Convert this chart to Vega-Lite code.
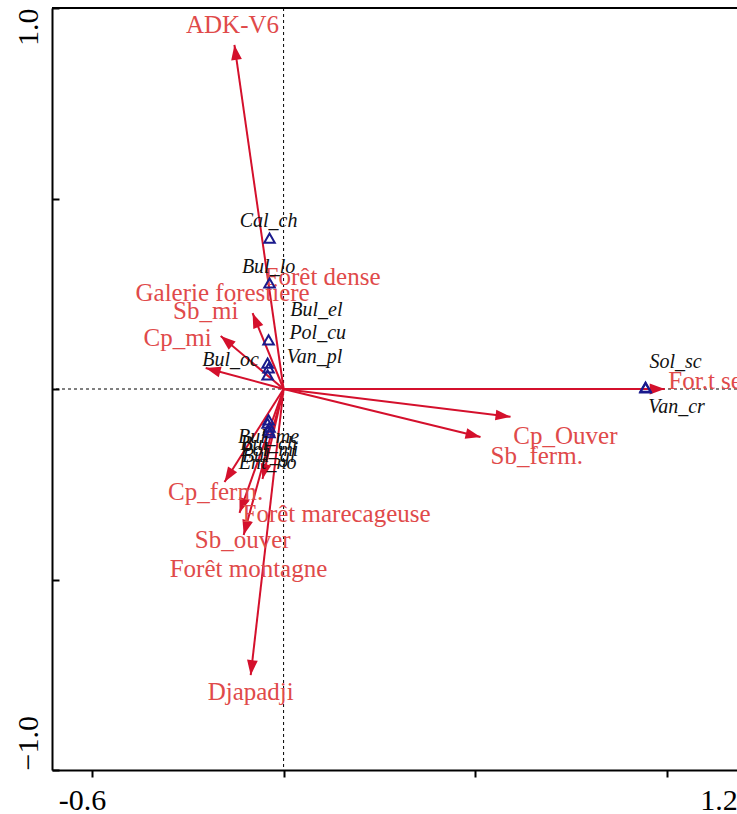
{
  "$schema": "https://vega.github.io/schema/vega-lite/v6.json",
  "width": 685,
  "height": 762,
  "autosize": {"type": "none"},
  "padding": {"left": 52, "top": 8, "right": 0, "bottom": 44},
  "background": "white",
  "config": {"view": {"stroke": null}},
  "datasets": {
    "env": [
      {"name": "ADK-V6", "ax": -0.154, "ay": 0.903, "lx": -0.160, "ly": 0.955},
      {"name": "Forêt dense", "ax": null, "ay": null, "lx": 0.122, "ly": 0.294},
      {"name": "Galerie forestiere", "ax": -0.244, "ay": 0.055, "lx": -0.191, "ly": 0.252},
      {"name": "Sb_mi", "ax": -0.097, "ay": 0.199, "lx": -0.244, "ly": 0.205},
      {"name": "Cp_mi", "ax": -0.197, "ay": 0.139, "lx": -0.332, "ly": 0.134},
      {"name": "For.t sec", "ax": 1.194, "ay": 0.0, "lx": 1.338, "ly": 0.021},
      {"name": "Cp_Ouver", "ax": 0.711, "ay": -0.073, "lx": 0.883, "ly": -0.123},
      {"name": "Sb_ferm.", "ax": 0.617, "ay": -0.126, "lx": 0.793, "ly": -0.176},
      {"name": "Cp_ferm.", "ax": -0.185, "ay": -0.244, "lx": -0.213, "ly": -0.270},
      {"name": "Forêt marecageuse", "ax": -0.138, "ay": -0.325, "lx": 0.166, "ly": -0.328},
      {"name": "Sb_ouver", "ax": -0.125, "ay": -0.383, "lx": -0.128, "ly": -0.396},
      {"name": "Forêt montagne", "ax": -0.066, "ay": -0.236, "lx": -0.110, "ly": -0.472},
      {"name": "Djapadji", "ax": -0.103, "ay": -0.751, "lx": -0.103, "ly": -0.795}
    ],
    "species": [
      {"name": "Cal_ch", "sx": -0.044, "sy": 0.396, "lx": -0.047, "ly": 0.441},
      {"name": "Bul_lo", "sx": -0.044, "sy": 0.278, "lx": -0.047, "ly": 0.320},
      {"name": "Bul_el", "sx": -0.047, "sy": 0.129, "lx": 0.103, "ly": 0.207},
      {"name": "Pol_cu", "sx": -0.050, "sy": 0.068, "lx": 0.107, "ly": 0.147},
      {"name": "Van_pl", "sx": -0.047, "sy": 0.055, "lx": 0.097, "ly": 0.084},
      {"name": "Bul_oc", "sx": -0.050, "sy": 0.037, "lx": -0.166, "ly": 0.076},
      {"name": "Sol_sc", "sx": 1.134, "sy": 0.005, "lx": 1.228, "ly": 0.071},
      {"name": "Van_cr", "sx": 1.134, "sy": 0.003, "lx": 1.231, "ly": -0.047},
      {"name": "Bul_me", "sx": -0.047, "sy": -0.081, "lx": -0.047, "ly": -0.126},
      {"name": "Bul_ch", "sx": -0.044, "sy": -0.100, "lx": -0.047, "ly": -0.144},
      {"name": "Pol_mi", "sx": -0.044, "sy": -0.115, "lx": -0.044, "ly": -0.160},
      {"name": "Bul_gl", "sx": -0.047, "sy": -0.108, "lx": -0.047, "ly": -0.176},
      {"name": "Ent_no", "sx": -0.050, "sy": -0.090, "lx": -0.050, "ly": -0.194}
    ]
  },
  "layer": [
    {
      "data": {"values": [{}]},
      "mark": {"type": "rule", "color": "black", "strokeWidth": 1, "strokeDash": [3, 3]},
      "encoding": {
        "x": {
          "datum": 0, "type": "quantitative",
          "scale": {"domain": [-0.7255, 1.4205], "nice": false, "zero": false},
          "axis": {
            "orient": "bottom", "title": null, "grid": false,
            "values": [-0.6, 0, 0.6, 1.2],
            "labelExpr": "datum.value == -0.6 ? '-0.6' : (datum.value == 1.2 ? '1.2' : '')",
            "labelOffset": {"condition": {"test": "datum.value > 1", "value": 52}, "value": -10},
            "labelFont": "Liberation Serif", "labelFontSize": 30, "labelColor": "black",
            "labelPadding": 8, "labelOverlap": false, "labelBound": false, "labelFlush": false,
            "domainColor": "black", "domainWidth": 2,
            "tickColor": "black", "tickWidth": 2, "tickSize": 7
          }
        }
      }
    },
    {
      "data": {"values": [{}]},
      "mark": {"type": "rule", "color": "black", "strokeWidth": 1, "strokeDash": [3, 3]},
      "encoding": {
        "y": {
          "datum": 0, "type": "quantitative",
          "scale": {"domain": [-1, 1], "nice": false, "zero": false},
          "axis": {
            "orient": "left", "title": null, "grid": false,
            "values": [-1, -0.5, 0, 0.5, 1],
            "labelExpr": "abs(datum.value) == 1 ? format(datum.value, '.1f') : ''",
            "labelAngle": 270,
            "labelAlign": {"condition": {"test": "datum.value > 0", "value": "right"}, "value": "left"},
            "labelBaseline": "bottom",
            "labelFont": "Liberation Serif", "labelFontSize": 30, "labelColor": "black",
            "labelPadding": 16, "labelOverlap": false, "labelBound": false, "labelFlush": false,
            "domainColor": "black", "domainWidth": 2,
            "tickColor": "black", "tickWidth": 2, "tickSize": -7
          }
        }
      }
    },
    {
      "data": {"values": [{}]},
      "mark": {"type": "rule", "color": "black", "strokeWidth": 2},
      "encoding": {"y": {"datum": 1, "type": "quantitative"}}
    },
    {
      "data": {"name": "env"},
      "transform": [{"filter": "isValid(datum.ax)"}],
      "mark": {"type": "rule", "color": "#d4102c", "strokeWidth": 2},
      "encoding": {
        "x": {"field": "ax", "type": "quantitative"},
        "y": {"field": "ay", "type": "quantitative"},
        "x2": {"datum": 0},
        "y2": {"datum": 0}
      }
    },
    {
      "data": {"name": "env"},
      "transform": [
        {"filter": "isValid(datum.ax)"},
        {"calculate": "atan2(datum.ax * 319.2, datum.ay * 381) * 180 / PI", "as": "ang"}
      ],
      "mark": {"type": "point", "shape": "M0,0L0.36,1L-0.36,1Z", "filled": true, "color": "#d4102c", "opacity": 1, "size": 900},
      "encoding": {
        "x": {"field": "ax", "type": "quantitative"},
        "y": {"field": "ay", "type": "quantitative"},
        "angle": {"field": "ang", "type": "quantitative", "scale": null}
      }
    },
    {
      "data": {"name": "env"},
      "mark": {"type": "text", "font": "Liberation Serif", "fontSize": 25, "color": "#e04a4a", "align": "center", "baseline": "middle"},
      "encoding": {
        "x": {"field": "lx", "type": "quantitative"},
        "y": {"field": "ly", "type": "quantitative"},
        "text": {"field": "name"}
      }
    },
    {
      "data": {"name": "species"},
      "mark": {"type": "point", "shape": "triangle-up", "filled": false, "color": "#1a1a8c", "strokeWidth": 2, "opacity": 1, "size": 110},
      "encoding": {
        "x": {"field": "sx", "type": "quantitative"},
        "y": {"field": "sy", "type": "quantitative"}
      }
    },
    {
      "data": {"name": "species"},
      "mark": {"type": "text", "font": "Liberation Serif", "fontStyle": "italic", "fontSize": 20, "color": "#111111", "align": "center", "baseline": "middle"},
      "encoding": {
        "x": {"field": "lx", "type": "quantitative"},
        "y": {"field": "ly", "type": "quantitative"},
        "text": {"field": "name"}
      }
    }
  ]
}
